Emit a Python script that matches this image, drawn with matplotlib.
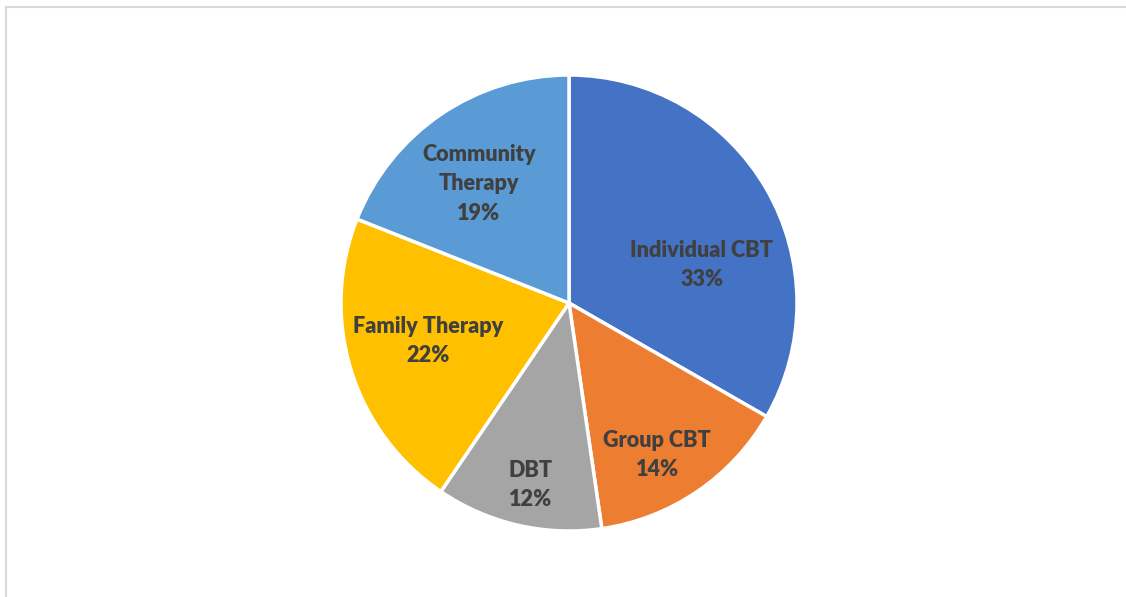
import matplotlib.pyplot as plt
from matplotlib.lines import Line2D

categories = ["Individual CBT", "Group CBT", "DBT", "Family Therapy", "Community\nTherapy"]
shares = [33.3, 14.4, 11.8, 21.5, 19.0]
colors = ["#4472C4", "#ED7D31", "#A5A5A5", "#FFC000", "#5B9BD5"]

# label anchor points (in pie radius units), Excel "best fit" style
label_pos = [(0.583, 0.167), (0.386, -0.667), (-0.167, -0.798), (-0.618, -0.167), (-0.395, 0.522)]

W, H = 1126, 597
fig = plt.figure(figsize=(W / 100, H / 100), dpi=100)

# chart area border (only left/top visible in the crop)
fig.add_artist(Line2D([6 / W, 6 / W], [0, 1 - 7 / H], transform=fig.transFigure, color="#D9D9D9", lw=1.5))
fig.add_artist(Line2D([6 / W, 1], [1 - 7 / H, 1 - 7 / H], transform=fig.transFigure, color="#D9D9D9", lw=1.5))

cx, cy, r = 569, 303, 228
ax = fig.add_axes([(cx - r) / W, (H - cy - r) / H, 2 * r / W, 2 * r / H])
ax.pie(
    shares,
    colors=colors,
    startangle=90,
    counterclock=False,
    radius=1,
    wedgeprops={"edgecolor": "white", "linewidth": 2.5},
)
ax.set_xlim(-1, 1)
ax.set_ylim(-1, 1)
ax.set_aspect("equal")
ax.axis("off")

total = sum(shares)
for name, val, (x, y) in zip(categories, shares, label_pos):
    ax.text(x, y, f"{name}\n{100 * val / total:.0f}%", ha="center", va="center", fontsize=15.6,
            fontweight="heavy", family="Lato", color="#404040", linespacing=1.5)

fig.savefig("out.png", dpi=100)
